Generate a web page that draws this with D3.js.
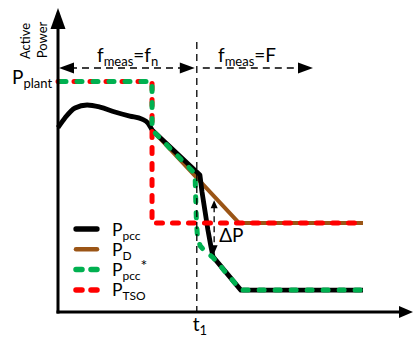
<!DOCTYPE html>
<html>
<head>
<meta charset="utf-8">
<script src="https://cdn.jsdelivr.net/npm/d3@7"></script>
<style>
  html, body { margin: 0; padding: 0; background: #fff; }
  svg { display: block; font-family: Lato, "Open Sans", sans-serif; }
</style>
</head>
<body>
<svg id="chart" width="413" height="337"></svg>
<script>
// Time axis in arbitrary units, power normalised to P_plant = 1
const tDomain = [0, 10];
const pDomain = [0, 1];
const t1 = 4.0;            // frequency measurement switches

// P_pcc: measured power at the point of common coupling
const pccHump = [[0, 0.80], [0.2, 0.842], [0.49, 0.885], [0.84, 0.898], [1.21, 0.889],
                 [1.64, 0.868], [2.07, 0.85], [2.42, 0.837], [2.59, 0.82], [2.71, 0.79]];
const pccTail = [[4.09, 0.594], [4.15, 0.521], [4.24, 0.434], [4.32, 0.356], [4.41, 0.282],
                 [4.47, 0.239], [5.27, 0.095], [8.79, 0.095]];
// P_D: demanded power ramp
const pD = [[2.71, 0.79], [5.22, 0.386], [8.79, 0.386]];
// P_pcc*: alternative response
const pccStar = [[0, 1], [2.71, 1], [2.71, 0.79], [3.95, 0.60], [3.97, 0.486], [3.99, 0.39],
                 [4.02, 0.325], [4.10, 0.286], [4.25, 0.262], [4.47, 0.236], [5.27, 0.095], [8.79, 0.095]];
// P_TSO: set-point from the TSO
const pTSO = [[0, 1], [2.71, 1], [2.71, 0.386], [8.79, 0.386]];

const deltaP = [0.485, 0.255];   // ΔP arrow span (power), drawn at t = 4.5

const legendItems = [
  { key: "pcc", main: "P", sub: "pcc", sup: "" },
  { key: "D", main: "P", sub: "D", sup: "" },
  { key: "star", main: "P", sub: "pcc", sup: "*" },
  { key: "tso", main: "P", sub: "TSO", sup: "" }
];

const svg = d3.select("#chart");
const x = d3.scaleLinear().domain(tDomain).range([58, 405]);
const y = d3.scaleLinear().domain(pDomain).range([312, 81.5]);

const styles = {
  pcc:  { stroke: "#000", width: 4.8, dash: null },
  D:    { stroke: "#9B5516", width: 4, dash: null },
  star: { stroke: "#00B050", width: 5, dash: "5,11", offset: -3 },
  tso:  { stroke: "#FF0000", width: 5, dash: "6,10", offset: 0 }
};

const line = d3.line().x(d => x(d[0])).y(d => y(d[1]));
const hump = d3.line().x(d => x(d[0])).y(d => y(d[1])).curve(d3.curveMonotoneX);

function draw(pathD, st, g) {
  const p = g.append("path").attr("d", pathD)
    .attr("fill", "none").attr("stroke", st.stroke).attr("stroke-width", st.width)
    .attr("stroke-linejoin", "round");
  if (st.dash) p.attr("stroke-dasharray", st.dash).attr("stroke-dashoffset", st.offset)
                .attr("stroke-linecap", "round");
  return p;
}

const plot = svg.append("g");
draw(line(pD), styles.D, plot);
draw(hump(pccHump) + line(pccTail).replace(/^M/, "L"), styles.pcc, plot);
draw(line(pTSO), styles.tso, plot);
draw(line(pccStar), styles.star, plot);

// Axes with arrow heads
const x0 = x(0), y0 = y(0);
const yTop = 8, xRight = 413;
const ax = svg.append("g");
ax.append("line").attr("x1", x0).attr("y1", y0 + 1.5).attr("x2", x0).attr("y2", yTop + 18)
  .attr("stroke", "#000").attr("stroke-width", 3);
ax.append("line").attr("x1", x0 - 1.5).attr("y1", y0).attr("x2", xRight - 12).attr("y2", y0)
  .attr("stroke", "#000").attr("stroke-width", 3);
ax.append("path").attr("d", `M${x0},${yTop} L${x0 - 7.5},${yTop + 21} L${x0 + 7.5},${yTop + 21} Z`);
ax.append("path").attr("d", `M${xRight},${y0} L${xRight - 14},${y0 - 6} L${xRight - 14},${y0 + 6} Z`);

// Vertical marker at t1
const ann = svg.append("g").attr("stroke", "#000").attr("stroke-width", 1.3);
ann.append("line").attr("x1", x(t1)).attr("x2", x(t1)).attr("y1", 42).attr("y2", y0 + 4)
  .attr("stroke-dasharray", "7,5");

// f_meas ranges
const yArr = 68;
ann.append("line").attr("x1", x0 + 12).attr("x2", x(t1) - 14).attr("y1", yArr).attr("y2", yArr)
  .attr("stroke-dasharray", "7,5");
ann.append("line").attr("x1", x(t1) + 6).attr("x2", 300).attr("y1", yArr).attr("y2", yArr)
  .attr("stroke-dasharray", "7,5");
const heads = svg.append("g").attr("fill", "#000");
heads.append("path").attr("d", `M${x0 + 1},${yArr} L${x0 + 16},${yArr - 5.5} L${x0 + 16},${yArr + 5.5} Z`);
heads.append("path").attr("d", `M${x(t1) - 2},${yArr} L${x(t1) - 17},${yArr - 5.5} L${x(t1) - 17},${yArr + 5.5} Z`);
heads.append("path").attr("d", `M313,${yArr} L298,${yArr - 5.5} L298,${yArr + 5.5} Z`);

// ΔP arrow
const xd = x(4.5);
ann.append("line").attr("x1", xd).attr("x2", xd).attr("y1", y(deltaP[0]) + 6).attr("y2", y(deltaP[1]) - 6)
  .attr("stroke-dasharray", "6,4");
heads.append("path").attr("d", `M${xd},${y(deltaP[0])} L${xd - 3.5},${y(deltaP[0]) + 8} L${xd + 3.5},${y(deltaP[0]) + 8} Z`);
heads.append("path").attr("d", `M${xd},${y(deltaP[1])} L${xd - 3.5},${y(deltaP[1]) - 8} L${xd + 3.5},${y(deltaP[1]) - 8} Z`);

// Text labels
const txt = svg.append("g").attr("fill", "#000");
function label(xp, yp, main, sub, sup, size, subSize) {
  const t = txt.append("text").attr("x", xp).attr("y", yp).attr("font-size", size || 19);
  t.append("tspan").text(main);
  if (sub) t.append("tspan").attr("dy", 4).attr("font-size", subSize || 13).text(sub);
  if (sup) t.append("tspan").attr("dy", -9).attr("font-size", 16).text(sup);
  return t;
}

// y-axis title, rotated
txt.append("text").attr("transform", "translate(30,41) rotate(-90)")
  .attr("text-anchor", "middle").attr("font-size", 13).text("Active");
txt.append("text").attr("transform", "translate(47,40) rotate(-90)")
  .attr("text-anchor", "middle").attr("font-size", 13).text("Power");

label(12, y(1) + 2, "P", "plant");
label(x(t1) - 4, 331, "t", "1");
label(xd + 5, 242, "ΔP", null);

const fm1 = txt.append("text").attr("x", 97).attr("y", 62).attr("font-size", 19);
fm1.append("tspan").text("f");
fm1.append("tspan").attr("dy", 4).attr("font-size", 13).text("meas");
fm1.append("tspan").attr("dy", -4).text("=f");
fm1.append("tspan").attr("dy", 4).attr("font-size", 13).text("n");

const fm2 = txt.append("text").attr("x", 218).attr("y", 62).attr("font-size", 19);
fm2.append("tspan").text("f");
fm2.append("tspan").attr("dy", 4).attr("font-size", 13).text("meas");
fm2.append("tspan").attr("dy", -4).text("=F");

// Legend
const leg = svg.append("g");
legendItems.forEach((it, i) => {
  const ly = 229 + i * 20.3;
  const st = styles[it.key];
  const p = leg.append("line").attr("x1", 76).attr("x2", 97).attr("y1", ly).attr("y2", ly)
    .attr("stroke", st.stroke).attr("stroke-width", st.width + 0.5).attr("stroke-linecap", "round");
  if (st.dash) p.attr("stroke-dasharray", "6,9");
  label(112, ly + 6.5, it.main, it.sub, it.sup, 17.5, 12);
});
</script>
</body>
</html>
